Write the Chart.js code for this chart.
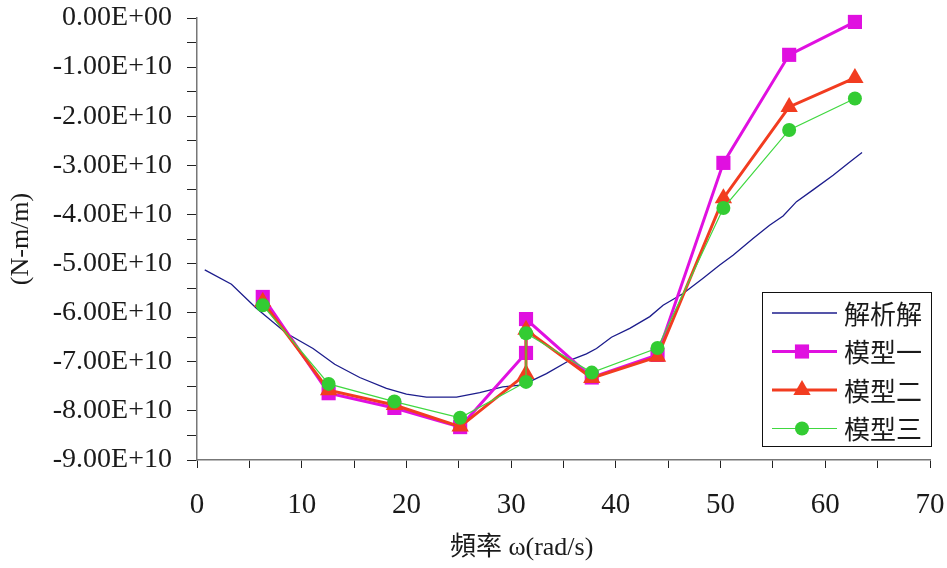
<!DOCTYPE html>
<html>
<head>
<meta charset="utf-8">
<title>頻率 - 彎矩</title>
<script src="https://cdn.jsdelivr.net/npm/chart.js@4/dist/chart.umd.min.js"></script>
<style>
  html, body { margin: 0; padding: 0; background: #fff; }
  #wrap { width: 947px; height: 568px; }
</style>
</head>
<body>
<div id="wrap"><canvas id="chart" width="947" height="568"></canvas></div>
<script>
// 頻率 ω (rad/s) 對應的模型點
const omega = [6.28, 12.57, 18.85, 25.13, 31.42, 31.42, 37.70, 43.98, 50.27, 56.55, 62.83];
const model1 = [-5.68e10, -7.64e10, -7.94e10, -8.33e10, -6.82e10, -6.13e10, -7.32e10, -6.86e10, -2.95e10, -0.75e10, -0.08e10];
const model2 = [-5.78e10, -7.58e10, -7.88e10, -8.32e10, -7.25e10, -6.35e10, -7.33e10, -6.90e10, -3.67e10, -1.81e10, -1.22e10];
const model3 = [-5.85e10, -7.45e10, -7.81e10, -8.14e10, -7.41e10, -6.42e10, -7.22e10, -6.72e10, -3.87e10, -2.28e10, -1.64e10];

// 解析解
const exactOmega = [0.74, 3.29, 5.67, 8.54, 11.08, 13.15, 15.54, 18.09, 20.0, 21.91, 24.78, 27.0, 29.2, 31.14,
  33.37, 35.6, 37.19, 38.15, 39.58, 41.33, 43.24, 44.51, 46.42, 48.33, 49.92, 51.19, 53.1, 54.68, 55.97,
  57.25, 58.83, 60.75, 62.34, 63.51];
const exactValue = [-5.13e10, -5.42e10, -5.91e10, -6.42e10, -6.73e10, -7.05e10, -7.32e10, -7.54e10, -7.66e10,
  -7.72e10, -7.72e10, -7.63e10, -7.51e10, -7.47e10, -7.24e10, -6.97e10, -6.84e10, -6.73e10, -6.50e10,
  -6.32e10, -6.08e10, -5.85e10, -5.61e10, -5.30e10, -5.03e10, -4.83e10, -4.49e10, -4.22e10, -4.03e10,
  -3.74e10, -3.50e10, -3.20e10, -2.93e10, -2.74e10];

const seriesNames = ['解析解', '模型一', '模型二', '模型三'];
const xTicks = [0, 10, 20, 30, 40, 50, 60, 70];
const yMin = -9e10, yMax = 0;

const serif = '"Liberation Serif", "Times New Roman", serif';
const cjk = '"Noto Sans CJK TC", "Noto Sans CJK SC", sans-serif';

function toPoints(xs, ys) {
    return xs.map((x, i) => ({ x: x, y: ys[i] }));
}

// 0.00E+00 格式
function sciLabel(v) {
    const parts = v.toExponential(2).split('e');
    let exp = parseInt(parts[1], 10);
    const sign = exp < 0 ? '-' : '+';
    exp = Math.abs(exp);
    return parts[0] + 'E' + sign + (exp < 10 ? '0' + exp : exp);
}

// 標籤不要把繪圖區往內推
function noLabelPadding(scale) {
    scale.paddingTop = 0;
    scale.paddingBottom = 0;
    scale.paddingLeft = 0;
    scale.paddingRight = 0;
}

// 圖例（畫在繪圖區內右下角）
const boxLegend = {
    id: 'boxLegend',
    afterDraw(chart) {
        const ctx = chart.ctx;
        const area = chart.chartArea;
        const w = 169, h = 154;
        const left = area.right + 1 - w;
        const top = area.bottom - 14 - h;
        ctx.save();
        ctx.fillStyle = '#fff';
        ctx.fillRect(left, top, w, h);
        ctx.strokeStyle = '#111';
        ctx.lineWidth = 1;
        ctx.strokeRect(left + 0.5, top + 0.5, w, h);

        chart.data.datasets.forEach((ds, i) => {
            const y = top + 21 + i * 38.5;
            ctx.strokeStyle = ds.borderColor;
            ctx.lineWidth = ds.borderWidth;
            ctx.beginPath();
            ctx.moveTo(left + 10, y);
            ctx.lineTo(left + 75, y);
            ctx.stroke();
            if (ds.pointRadius > 0) {
                ctx.fillStyle = ds.pointBackgroundColor;
                Chart.helpers.drawPoint(ctx, {
                    pointStyle: ds.pointStyle,
                    radius: ds.pointRadius,
                    rotation: 0,
                    borderWidth: 0
                }, left + 40, y);
            }
            ctx.fillStyle = '#1a1a1a';
            ctx.font = '26px ' + cjk;
            ctx.textBaseline = 'middle';
            ctx.textAlign = 'left';
            ctx.fillText(ds.label, left + 82, y + 1);
        });
        ctx.restore();
    }
};

// x 軸標題
const xTitle = {
    id: 'xTitle',
    afterDraw(chart) {
        const ctx = chart.ctx;
        const xs = chart.scales.x;
        ctx.save();
        ctx.fillStyle = '#1a1a1a';
        ctx.font = '26px ' + serif + ', ' + cjk;
        ctx.textAlign = 'center';
        ctx.textBaseline = 'middle';
        ctx.fillText('頻率 ω(rad/s)', xs.getPixelForValue(31), chart.chartArea.bottom + 88);
        ctx.restore();
    }
};

const ctx = document.getElementById('chart').getContext('2d');
new Chart(ctx, {
    type: 'line',
    data: {
        datasets: [
            {
                label: seriesNames[0],
                data: toPoints(exactOmega, exactValue),
                borderColor: '#1c1c8c',
                borderWidth: 1.3,
                pointRadius: 0,
                order: 4
            },
            {
                label: seriesNames[1],
                data: toPoints(omega, model1),
                borderColor: '#e010e0',
                borderWidth: 3,
                pointStyle: 'rect',
                pointRadius: 10,
                pointBackgroundColor: '#e010e0',
                pointBorderWidth: 0,
                order: 3
            },
            {
                label: seriesNames[2],
                data: toPoints(omega, model2),
                borderColor: '#f23c20',
                borderWidth: 3,
                pointStyle: 'triangle',
                pointRadius: 10,
                pointBackgroundColor: '#f23c20',
                pointBorderWidth: 0,
                order: 2
            },
            {
                label: seriesNames[3],
                data: toPoints(omega, model3),
                borderColor: '#40d840',
                borderWidth: 1.2,
                pointStyle: 'circle',
                pointRadius: 7,
                pointBackgroundColor: '#33cc33',
                pointBorderWidth: 0,
                order: 1
            }
        ]
    },
    options: {
        responsive: false,
        animation: false,
        devicePixelRatio: 1,
        layout: { padding: { left: 0, top: 18, right: 17, bottom: 0 } },
        datasets: { line: { tension: 0, clip: false } },
        plugins: {
            legend: { display: false },
            tooltip: { enabled: false }
        },
        scales: {
            x: {
                type: 'linear',
                min: xTicks[0],
                max: xTicks[xTicks.length - 1],
                afterFit(scale) { scale.height = 108; noLabelPadding(scale); },
                ticks: {
                    stepSize: 5,
                    autoSkip: false,
                    maxRotation: 0,
                    padding: 20,
                    color: '#1a1a1a',
                    font: { family: serif, size: 29 },
                    callback: v => (xTicks.includes(v) ? String(v) : '')
                },
                grid: {
                    drawOnChartArea: false,
                    drawTicks: true,
                    tickLength: 8,
                    color: '#222'
                },
                border: { display: true, color: '#777', width: 1.5 }
            },
            y: {
                type: 'linear',
                min: yMin,
                max: yMax,
                afterFit(scale) { scale.width = 197; noLabelPadding(scale); },
                ticks: {
                    stepSize: 0.5e10,
                    autoSkip: false,
                    padding: 15,
                    color: '#1a1a1a',
                    font: { family: serif, size: 28 },
                    callback: v => (Math.round(v / 1e9) % 10 === 0 ? sciLabel(v) : '')
                },
                grid: {
                    drawOnChartArea: false,
                    drawTicks: true,
                    tickLength: 10,
                    color: '#222'
                },
                border: { display: true, color: '#777', width: 1.5 },
                title: {
                    display: true,
                    text: '(N-m/m)',
                    color: '#1a1a1a',
                    font: { family: serif, size: 26 },
                    padding: { top: 6, bottom: 0 }
                }
            }
        }
    },
    plugins: [boxLegend, xTitle]
});
</script>
</body>
</html>
